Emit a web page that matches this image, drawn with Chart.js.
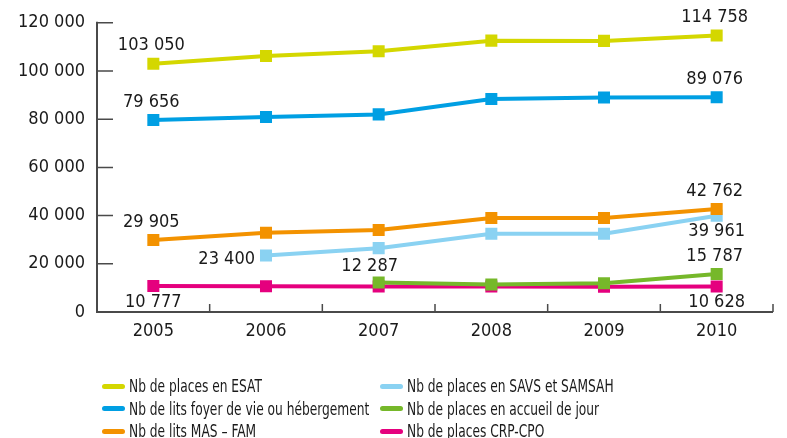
<!DOCTYPE html>
<html>
<head>
<meta charset="utf-8">
<script src="https://cdn.jsdelivr.net/npm/chart.js@4"></script>
<style>
    html, body { margin: 0; padding: 0; background: #fff; }
    #wrap { position: relative; width: 787px; height: 438px; }
    canvas { display: block; }
    #legend {
        position: absolute; left: 102px; top: 375px;
        display: grid; grid-template-columns: 278px 300px;
        grid-template-rows: repeat(3, 22.5px); grid-auto-flow: column;
        font-family: "Liberation Sans Narrow", "DejaVu Sans Condensed", sans-serif;
        font-size: 17px; color: #1a1a1a;
    }
    .item { display: flex; align-items: center; white-space: nowrap; }
    .swatch { flex: 0 0 23px; height: 5px; border-radius: 3px; margin-right: 4px; }
    .text { display: inline-block; transform: scaleX(0.8); transform-origin: left center; }
</style>
</head>
<body>
<div id="wrap">
    <canvas id="chart" width="787" height="438"></canvas>
    <div id="legend"></div>
</div>
<script>
const years = ["2005", "2006", "2007", "2008", "2009", "2010"];

const esat = [103050, 106200, 108200, 112600, 112500, 114758];
const foyer = [79656, 80900, 82000, 88400, 89000, 89076];
const masFam = [29905, 32900, 34000, 39000, 39000, 42762];
const savs = [null, 23400, 26500, 32500, 32500, 39961];
const accueil = [null, null, 12287, 11400, 11900, 15787];
const crpCpo = [10777, 10700, 10600, 10600, 10500, 10628];

const yTicks = [0, 20000, 40000, 60000, 80000, 100000, 120000];

const series = [
    { label: "Nb de places en ESAT", data: esat, color: "#d4d700", first: "above", last: "above" },
    { label: "Nb de lits foyer de vie ou hébergement", data: foyer, color: "#009fe3", first: "above", last: "above" },
    { label: "Nb de lits MAS – FAM", data: masFam, color: "#f39200", first: "above", last: "above" },
    { label: "Nb de places en SAVS et SAMSAH", data: savs, color: "#8ad2f2", first: "left", last: "below" },
    { label: "Nb de places en accueil de jour", data: accueil, color: "#76b82a", first: "aboveLeft", last: "above" },
    { label: "Nb de places CRP-CPO", data: crpCpo, color: "#e5007e", first: "below", last: "below" },
];

const numFont = '18px "DejaVu Sans Condensed", sans-serif';
const axisColor = "#4a4a4a";

function fmt(v) {
    return String(v).replace(/\B(?=(\d{3})+(?!\d))/g, " ");
}

// axes are drawn by hand: the ticks in the original point inwards
const axesPlugin = {
    id: "axesInside",
    afterDraw(chart) {
        const { ctx, chartArea } = chart;
        const x = chart.scales.x;
        const y = chart.scales.y;
        ctx.save();
        ctx.strokeStyle = axisColor;
        ctx.lineWidth = 2;
        ctx.beginPath();
        ctx.moveTo(chartArea.left, chartArea.top - 1);
        ctx.lineTo(chartArea.left, chartArea.bottom);
        ctx.lineTo(chartArea.right, chartArea.bottom);
        ctx.stroke();
        ctx.lineWidth = 1.5;
        ctx.beginPath();
        yTicks.forEach((t) => {
            const py = y.getPixelForValue(t);
            ctx.moveTo(chartArea.left, py);
            ctx.lineTo(chartArea.left + 16, py);
        });
        const step = (chartArea.right - chartArea.left) / years.length;
        years.forEach((yr, i) => {
            const px = x.getPixelForValue(i) + step / 2;
            ctx.moveTo(px, chartArea.bottom);
            ctx.lineTo(px, chartArea.bottom - 8);
        });
        ctx.stroke();
        ctx.restore();
    },
};

const labelsPlugin = {
    id: "endLabels",
    afterDatasetsDraw(chart) {
        const { ctx } = chart;
        ctx.save();
        ctx.font = numFont;
        ctx.fillStyle = "#1a1a1a";
        ctx.textBaseline = "middle";
        series.forEach((s, di) => {
            const meta = chart.getDatasetMeta(di);
            const idx = s.data.map((v, i) => (v === null ? -1 : i)).filter((i) => i >= 0);
            const ends = [[idx[0], s.first], [idx[idx.length - 1], s.last]];
            ends.forEach(([i, pos]) => {
                const pt = meta.data[i];
                const text = fmt(s.data[i]);
                ctx.textAlign = "center";
                let tx = pt.x;
                let ty = pt.y;
                if (pos === "above") { ty -= 18; tx -= 2; }
                if (pos === "below") { ty += 16; }
                if (pos === "aboveLeft") { ty -= 16; tx -= 9; }
                if (pos === "left") { ctx.textAlign = "right"; tx -= 11; ty += 4; }
                ctx.fillText(text, tx, ty);
            });
        });
        ctx.restore();
    },
};

new Chart(document.getElementById("chart"), {
    type: "line",
    data: {
        labels: years,
        datasets: series.map((s) => ({
            label: s.label,
            data: s.data,
            borderColor: s.color,
            backgroundColor: s.color,
            borderWidth: 4,
            pointStyle: "rect",
            pointRadius: 8.5,
            pointBorderWidth: 0,
            tension: 0,
        })),
    },
    options: {
        responsive: false,
        animation: false,
        layout: { padding: { top: 20, right: 14, bottom: 86, left: 0 } },
        plugins: { legend: { display: false }, tooltip: { enabled: false } },
        scales: {
            x: {
                offset: true,
                grid: { display: false, drawTicks: false },
                border: { display: false },
                ticks: { color: "#1a1a1a", font: { family: "DejaVu Sans Condensed", size: 18 }, padding: 9 },
                afterFit(scale) { scale.height = 40; },
            },
            y: {
                min: 0,
                max: 120000,
                grid: { display: false, drawTicks: false },
                border: { display: false },
                afterBuildTicks(scale) { scale.ticks = yTicks.map((v) => ({ value: v })); },
                ticks: {
                    color: "#1a1a1a",
                    font: { family: "DejaVu Sans Condensed", size: 18 },
                    padding: 12,
                    callback: (v) => fmt(v),
                },
                afterFit(scale) { scale.width = 97; },
            },
        },
    },
    plugins: [axesPlugin, labelsPlugin],
});

const legend = document.getElementById("legend");
series.forEach((s) => {
    const item = document.createElement("div");
    item.className = "item";
    item.innerHTML = `<span class="swatch" style="background:${s.color}"></span><span class="text">${s.label}</span>`;
    legend.appendChild(item);
});
</script>
</body>
</html>
